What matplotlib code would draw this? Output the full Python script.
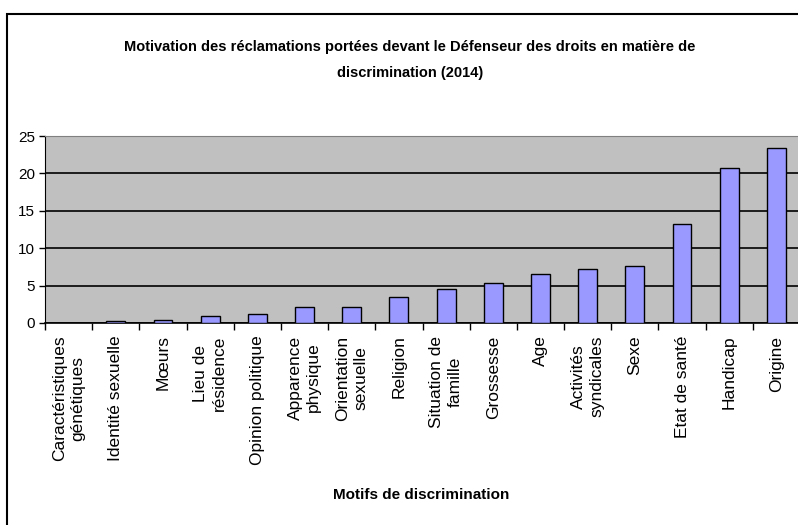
import matplotlib
matplotlib.use("Agg")
import matplotlib.pyplot as plt
import matplotlib.patches as mpatches
import numpy as np

# ── data ────────────────────────────────────────────────────────────────────
motifs = [
    "Caractéristiques\ngénétiques", "Identité sexuelle", "Mœurs",
    "Lieu de\nrésidence", "Opinion politique", "Apparence\nphysique",
    "Orientation\nsexuelle", "Religion", "Situation de\nfamille",
    "Grossesse", "Age", "Activités\nsyndicales", "Sexe", "Etat de santé",
    "Handicap", "Origine",
]
valeurs = [0.0, 0.27, 0.45, 0.9, 1.2, 2.1, 2.1, 3.5, 4.6, 5.3, 6.5, 7.2,
           7.6, 13.2, 20.7, 23.4]
y_ticks = [0, 5, 10, 15, 20, 25]

title = ("Motivation des réclamations portées devant le Défenseur des droits en matière de\n"
         "discrimination (2014)")
xlabel = "Motifs de discrimination"

narrow = ["Liberation Sans Narrow", "Liberation Sans", "DejaVu Sans"]
plain = ["Liberation Sans", "DejaVu Sans"]

# ── figure ──────────────────────────────────────────────────────────────────
fig = plt.figure(figsize=(7.98, 5.25), dpi=100)
W, H = 798, 525

# outer chart border (runs off right / bottom edges like the source)
fig.patches.append(mpatches.Rectangle((7 / W, -0.05), 1.1, 1 - 14 / H + 0.05,
                                      transform=fig.transFigure, fill=False,
                                      edgecolor="black", linewidth=1.5))

ax = fig.add_axes([45 / W, (H - 323) / H, 755 / W, (323 - 136) / H])
ax.set_facecolor("#C0C0C0")

x = np.arange(len(motifs))
ax.bar(x, valeurs, width=0.4, color="#9999FF", edgecolor="black",
       linewidth=1.0, zorder=3)

ax.set_xlim(-0.5, len(motifs) - 0.5)
ax.set_ylim(0, 25)
ax.set_yticks(y_ticks)
ax.yaxis.grid(True, color="black", linewidth=1.2, zorder=1)
ax.set_axisbelow(True)

for s in ["top", "right"]:
    ax.spines[s].set_color("#808080")
ax.spines["left"].set_color("black")
ax.spines["bottom"].set_color("black")
ax.spines["bottom"].set_linewidth(1.2)

ax.tick_params(axis="y", length=4, width=1, labelsize=11, pad=3)
for lab in ax.get_yticklabels():
    lab.set_family(narrow)

# tick marks at category boundaries, labels centred
ax.set_xticks(np.arange(len(motifs) + 1) - 0.5, minor=True)
ax.tick_params(axis="x", which="minor", length=5, width=1)
ax.set_xticks(x)
ax.set_xticklabels(motifs, rotation=90, va="top", ha="center",
                   family=plain, fontsize=12.5, linespacing=1.3)
ax.tick_params(axis="x", which="major", length=0, pad=9)

fig.text(410 / W, 1 - 60 / H, title, ha="center", va="center",
         family=narrow, fontweight="bold", fontsize=10.5, linespacing=2.15)
fig.text(421 / W, 1 - 495 / H, xlabel, ha="center", va="center",
         family=narrow, fontweight="bold", fontsize=11)

fig.savefig("out.png", dpi=100)
